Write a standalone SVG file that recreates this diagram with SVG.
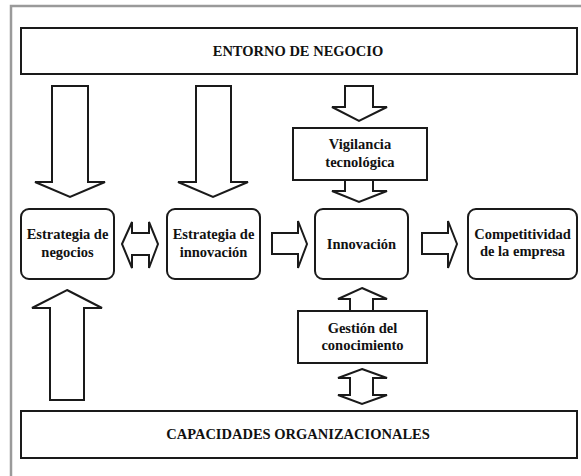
<svg xmlns="http://www.w3.org/2000/svg" width="581" height="476" viewBox="0 0 581 476">
<style>
.box{fill:#fff;stroke:#1a1a1a;stroke-width:2}
.arr{fill:#fff;stroke:#1a1a1a;stroke-width:2;stroke-linejoin:miter}
.t{font-family:'Liberation Serif','Times New Roman','DejaVu Serif',serif;font-weight:700;font-size:14.5px;fill:#111;text-anchor:middle}
.frame{fill:none;stroke:#9a9a9a;stroke-width:2.5}
</style>
<rect width="581" height="476" fill="#fff"/>
<path class="frame" d="M11,476 V6 H581"/>
<g id="entorno">
<rect class="box" x="21" y="28" width="556" height="46"/>
<text class="t" x="298" y="56">ENTORNO DE NEGOCIO</text>
</g>
<g id="capacidades">
<rect class="box" x="21" y="411" width="556" height="47"/>
<text class="t" x="298" y="439">CAPACIDADES ORGANIZACIONALES</text>
</g>
<g id="estrategia-negocios">
<rect class="box" x="21" y="209" width="93" height="70" rx="8"/>
<text class="t" x="67.5" y="239">Estrategia de</text>
<text class="t" x="67.5" y="257">negocios</text>
</g>
<g id="estrategia-innovacion">
<rect class="box" x="167" y="209" width="93" height="70" rx="8"/>
<text class="t" x="213.5" y="239">Estrategia de</text>
<text class="t" x="213.5" y="257">innovación</text>
</g>
<g id="innovacion">
<rect class="box" x="315" y="209" width="93" height="70" rx="8"/>
<text class="t" x="361.5" y="249">Innovación</text>
</g>
<g id="competitividad">
<rect class="box" x="468" y="209" width="109" height="70" rx="8"/>
<text class="t" x="522.5" y="239">Competitividad</text>
<text class="t" x="522.5" y="256">de la empresa</text>
</g>
<g id="vigilancia">
<rect class="box" x="293" y="128" width="134" height="52"/>
<text class="t" x="360" y="149">Vigilancia</text>
<text class="t" x="360" y="167">tecnológica</text>
</g>
<g id="gestion">
<rect class="box" x="298" y="311" width="129" height="52"/>
<text class="t" x="362.5" y="333">Gestión del</text>
<text class="t" x="362.5" y="350">conocimiento</text>
</g>
<g id="connectors">
<polygon class="arr" points="52,86 88,86 88,182 105,182 70,197 35,182 52,182"/>
<polygon class="arr" points="196,86 231,86 231,182 248,182 213,197 178,182 196,182"/>
<polygon class="arr" points="67,290 102,308 84,308 84,400 50,400 50,308 32,308"/>
<polygon class="arr" points="345,86 373,86 373,107 387,107 359,121 332,107 345,107"/>
<polygon class="arr" points="345,180 373,180 373,191 387,191 359,202 332,191 345,191"/>
<polygon class="arr" points="362,288 387,299 373,299 373,311 350,311 350,299 338,299"/>
<polygon class="arr" points="362,369 387,378 373,378 373,395 387,395 362,404 338,395 350,395 350,378 338,378"/>
<polygon class="arr" points="122,244 132,222 132,233 149,233 149,222 158,244 149,268 149,255 132,255 132,268"/>
<polygon class="arr" points="272,233 298,233 298,221 307,244 298,268 298,254 272,254"/>
<polygon class="arr" points="422,233 448,233 448,221 457,244 448,268 448,254 422,254"/>
</g>
</svg>
